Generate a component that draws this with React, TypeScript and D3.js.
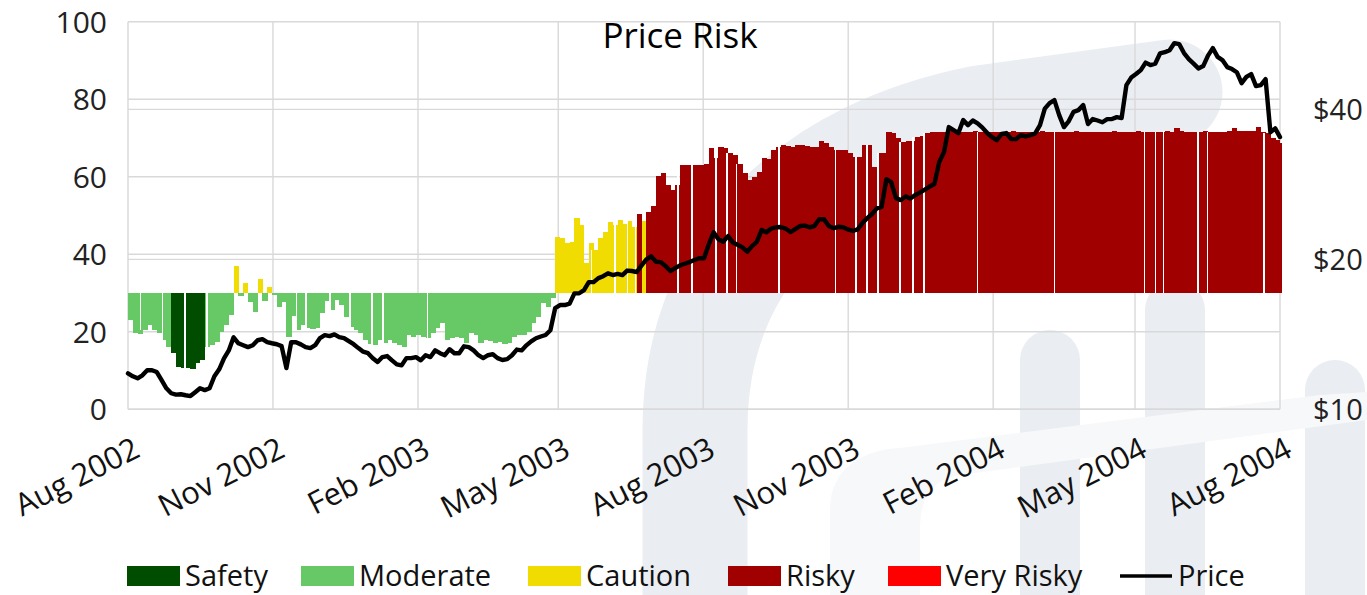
import * as d3 from 'd3';

const START = new Date(2002, 7, 1);
const END = new Date(2004, 7, 1);

// Risk score (0-100), one reading every ~3 calendar days from Aug 2002 to Aug 2004
const riskValues = [
  23, 19.7, 19.3, 20.5, 21.7, 20.5, 19.6, 17.9, 16.2, 14.4,
  11, 10.6, 10.6, 10.3, 11.9, 12.7, 16.2, 16.6, 17.4, 20,
  21.7, 24.3, 37, 29.3, 32.6, 27.7, 25.2, 33.5, 28, 31.6,
  29.5, 26.5, 27.7, 18.7, 24, 20.5, 21.8, 20.9, 20.8, 20.9,
  24.8, 28, 25.6, 28.2, 26.9, 23.7, 21.3, 20.5, 19.6, 17.9,
  16.8, 16.6, 17.9, 17, 17.9, 17, 16.6, 16, 19.2, 18.7,
  19.2, 18.7, 18.3, 19.6, 20.9, 22.2, 17.9, 18.3, 18.7, 18.3,
  17, 19.6, 19.2, 17, 17.9, 17.7, 17.2, 17.4, 16.9, 17,
  18.7, 19.2, 19.2, 20, 22.2, 23.9, 27.3, 26.5, 28.6, 44.5,
  44.1, 42.8, 43.2, 49.3, 47.5, 37.7, 42.8, 41, 44.1, 45.8,
  48.4, 47.5, 48.8, 47.8, 48.5, 47.1, 50.5, 48.7, 51, 52.5,
  60.2, 61, 57.9, 56.6, 57.9, 63, 63, 63, 63, 63,
  63.4, 67.3, 64.8, 67.8, 67.4, 66, 65.6, 63.3, 60.9, 59.2,
  60, 61.3, 64.8, 64.6, 66.9, 67.8, 68.2, 68, 67.8, 68.2,
  68.2, 68, 67.8, 67.8, 69.3, 68.7, 67.8, 66.9, 66.8, 66.8,
  66, 65.2, 65.2, 68.2, 68.2, 62.6, 66, 66, 71.6, 71.3,
  69.9, 69, 69.3, 69.3, 70.2, 70.4, 71.2, 71.6, 71.6, 71.5,
  71.6, 71.7, 71.6, 71.5, 71.6, 71.6, 71.7, 71.6, 71.5, 71.6,
  71.6, 71.5, 71.6, 71.6, 71.7, 71.6, 71.6, 71.5, 71.6, 71.6,
  71.7, 71.6, 71.6, 71.6, 71.5, 71.6, 71.6, 71.7, 71.6, 71.6,
  71.6, 71.5, 71.6, 71.6, 71.6, 71.7, 71.6, 71.6, 71.5, 71.6,
  71.8, 71.6, 71.6, 71.5, 71.6, 71.6, 71.7, 71.6, 72.5, 71.9,
  71.6, 71.5, 71.6, 71.6, 71.7, 71.6, 71.5, 71.6, 71.6, 71.7,
  72.5, 71.7, 71.7, 71.8, 71.7, 72.9, 71.6, 71.3, 69.9, 69.5,
  68.6,
];

// Share price in $, same dates
const priceValues = [
  11.81, 11.65, 11.54, 11.7, 11.98, 11.98, 11.88, 11.44, 11.02, 10.77,
  10.7, 10.72, 10.67, 10.63, 10.82, 11.02, 10.93, 11.02, 11.65, 12.03,
  12.66, 13.13, 13.95, 13.57, 13.45, 13.33, 13.45, 13.76, 13.83, 13.64,
  13.57, 13.51, 13.39, 12.1, 13.64, 13.63, 13.5, 13.33, 13.27, 13.45,
  13.9, 14.09, 14.03, 14.14, 13.96, 13.9, 13.7, 13.51, 13.27, 13.05,
  12.96, 12.66, 12.44, 12.73, 12.79, 12.54, 12.31, 12.25, 12.67, 12.67,
  12.73, 12.54, 12.84, 12.73, 13.13, 12.96, 12.84, 13.2, 12.96, 12.96,
  13.38, 13.33, 13.13, 12.84, 12.67, 12.84, 12.9, 12.67, 12.56, 12.61,
  12.84, 13.18, 13.13, 13.44, 13.69, 13.89, 14.0, 14.1, 14.41, 15.97,
  16.19, 16.19, 16.3, 17.09, 17.1, 17.35, 18.0, 18.0, 18.34, 18.5,
  18.75, 18.6, 18.7, 18.6, 18.99, 18.95, 18.86, 19.45, 20.0, 20.28,
  19.78, 19.75, 19.38, 18.95, 19.2, 19.45, 19.6, 19.75, 19.94, 20.1,
  20.1, 21.44, 22.66, 21.94, 21.7, 22.27, 21.63, 21.4, 21.14, 20.72,
  21.26, 21.69, 22.9, 22.66, 23.06, 23.2, 23.23, 23.06, 22.69, 23.0,
  23.33, 23.38, 23.2, 23.33, 24.08, 24.08, 23.33, 23.1, 23.25, 23.2,
  22.97, 22.8, 22.97, 23.65, 24.2, 24.66, 25.31, 25.5, 28.98, 28.58,
  26.54, 26.3, 26.76, 26.5, 26.93, 27.23, 27.6, 28.0, 28.33, 31.35,
  32.83, 36.86, 36.35, 35.86, 38.07, 37.2, 38.0, 37.5, 36.77, 35.86,
  35.2, 34.7, 35.7, 35.86, 34.87, 34.87, 35.52, 35.3, 35.52, 35.8,
  37.2, 40.15, 41.18, 41.75, 38.96, 36.86, 37.9, 39.56, 39.87, 40.8,
  37.38, 38.25, 38.0, 37.7, 38.25, 38.25, 38.6, 38.43, 44.75, 46.34,
  47.1, 47.97, 49.66, 49.1, 49.4, 51.8, 52.1, 52.6, 54.35, 54.1,
  51.9, 50.46, 49.43, 48.35, 48.87, 51.3, 53.1, 51.0, 50.25, 48.64,
  48.2, 47.5, 45.17, 46.5, 47.1, 44.55, 44.75, 46.0, 36.0, 36.64,
  35.2,
];

// days with no risk reading (thin white breaks in the bars)
const gapDates = [
  '2002-08-09', '2002-08-23', '2002-09-06', '2002-09-20', '2002-11-16', '2002-11-22',
  '2002-12-07', '2002-12-20', '2003-01-03', '2003-01-10', '2003-02-07', '2003-05-22',
  '2003-06-06', '2003-06-14', '2003-06-19', '2003-07-16', '2003-07-25', '2003-08-09',
  '2003-08-16', '2003-08-22', '2003-09-18', '2003-10-24', '2003-11-06', '2003-11-13',
  '2003-11-20', '2003-12-04', '2003-12-12', '2003-12-19', '2004-01-22', '2004-03-11',
  '2004-05-07', '2004-05-14', '2004-05-19', '2004-06-10', '2004-06-16', '2004-07-22',
];

const zoneNames = ['Safety', 'Moderate', 'Caution', 'Risky', 'Very Risky'];
const zoneUpper = [15, 30, 50, 80, 101];
const leftTicks = [0, 20, 40, 60, 80, 100];
const rightTicks = [10, 20, 40];

const ZONE_COLORS = ['#004d00', '#66c966', '#f0dc00', '#a00000', '#ff0000'];
const GRID = '#d9d9d9';
const WATERMARK = '#eaedf1';
const FONT = '"Open Sans", "Noto Sans", sans-serif';
const RISK_BASE = 30;

const W = 1367;
const H = 595;
const PLOT = { left: 128, right: 1280, top: 21.7, bottom: 409.3 };

const parse = d3.timeParse('%Y-%m-%d');

export default function App() {
  const n = riskValues.length;
  const x = d3.scaleTime().domain([START, END]).range([PLOT.left, PLOT.right]);
  const yL = d3.scaleLinear().domain([0, 100]).range([PLOT.bottom, PLOT.top]);
  const yR = d3.scaleLog().domain([10, 60]).range([PLOT.bottom, PLOT.top]);
  const dates = d3.range(n).map((i) => new Date(+START + (i * (+END - +START)) / (n - 1)));
  const base = yL(RISK_BASE);
  const zoneOf = (v: number) => zoneUpper.findIndex((u) => v < u);

  const months = d3.timeMonth.range(START, d3.timeDay.offset(END, 1), 3);
  const fmt = d3.timeFormat('%b %Y');

  const pricePath = d3.line<number>()
    .x((_, i) => x(dates[i]))
    .y((d) => yR(d))(priceValues) ?? '';

  const legendX = [127, 301, 528, 728, 888];

  return (
    <svg width={W} height={H} style={{ position: 'absolute', left: 0, top: 0, background: '#fff' }}
      fontFamily={FONT}>
      {/* faint logo watermark */}
      <g fill="none" stroke={WATERMARK} strokeLinecap="round" strokeLinejoin="round">
        <path d="M 695 640 L 695 430 C 695 250 820 150 980 118 L 1170 92" strokeWidth={105} />
        <path d="M 1050 640 L 1050 360" strokeWidth={60} />
        <path d="M 1175 640 L 1175 310" strokeWidth={60} />
        <path d="M 1335 640 L 1335 390" strokeWidth={60} />
      </g>
      <path d="M 830 600 L 830 510 C 830 470 860 450 900 448 L 1320 395 L 1367 392 L 1367 420 L 960 475 C 930 480 920 500 920 530 L 920 600 Z"
        fill="#f7f8fa" />

      {/* grid */}
      <g stroke={GRID} strokeWidth={1.4}>
        {leftTicks.map((t) => (
          <line key={`l${t}`} x1={PLOT.left} x2={PLOT.right} y1={yL(t)} y2={yL(t)} />
        ))}
        {rightTicks.map((t) => (
          <line key={`r${t}`} x1={PLOT.left} x2={PLOT.right} y1={yR(t)} y2={yR(t)} />
        ))}
        {months.map((m) => (
          <line key={+m} x1={x(m)} x2={x(m)} y1={PLOT.top} y2={PLOT.bottom} />
        ))}
      </g>

      {/* risk bars around the 30 line */}
      <g shapeRendering="crispEdges">
        {riskValues.map((v, i) => {
          const x0 = x(dates[i]);
          const x1 = i < n - 1 ? x(dates[i + 1]) : Math.min(x0 + 2, PLOT.right + 2);
          const y = yL(v);
          return (
            <rect key={i} x={x0} width={x1 - x0 + 0.4} y={Math.min(y, base)} height={Math.abs(base - y)}
              fill={ZONE_COLORS[zoneOf(v)]} />
          );
        })}
        {gapDates.map((g) => {
          const d = parse(g) as Date;
          const idx = Math.max(0, Math.min(n - 1, Math.round(((+d - +START) / (+END - +START)) * (n - 1))));
          return (
            <line key={g} x1={x(d)} x2={x(d)} y1={base} y2={yL(riskValues[idx])} stroke="#fff" strokeWidth={1.6} />
          );
        })}
      </g>

      {/* price line */}
      <path d={pricePath} fill="none" stroke="#000" strokeWidth={4.4} strokeLinejoin="round" strokeLinecap="round" />

      {/* title */}
      <text x={680} y={48} textAnchor="middle" fontSize={35} fill="#000">Price Risk</text>

      {/* left axis */}
      {leftTicks.map((t) => (
        <text key={t} x={107} y={yL(t)} dy="0.36em" textAnchor="end" fontSize={30} fill="#222">{t}</text>
      ))}
      {/* right axis */}
      {rightTicks.map((t) => (
        <text key={t} x={1313} y={yR(t)} dy="0.36em" textAnchor="start" fontSize={29} fill="#222">${t}</text>
      ))}
      {/* x axis */}
      {months.map((m) => (
        <text key={+m} transform={`translate(${x(m) + 4},${PLOT.bottom + 27}) rotate(-27)`}
          textAnchor="end" dy="0.7em" fontSize={31} fill="#111">{fmt(m)}</text>
      ))}

      {/* legend */}
      {zoneNames.map((name, i) => (
        <g key={name} transform={`translate(${legendX[i]},566)`}>
          <rect width={53} height={20} fill={ZONE_COLORS[i]} />
          <text x={58} y={10} dy="0.36em" fontSize={29} fill="#111">{name}</text>
        </g>
      ))}
      <g transform="translate(1120,576)">
        <line x1={0} x2={52} stroke="#000" strokeWidth={3.6} />
        <text x={58} dy="0.36em" fontSize={29} fill="#111">Price</text>
      </g>
    </svg>
  );
}
